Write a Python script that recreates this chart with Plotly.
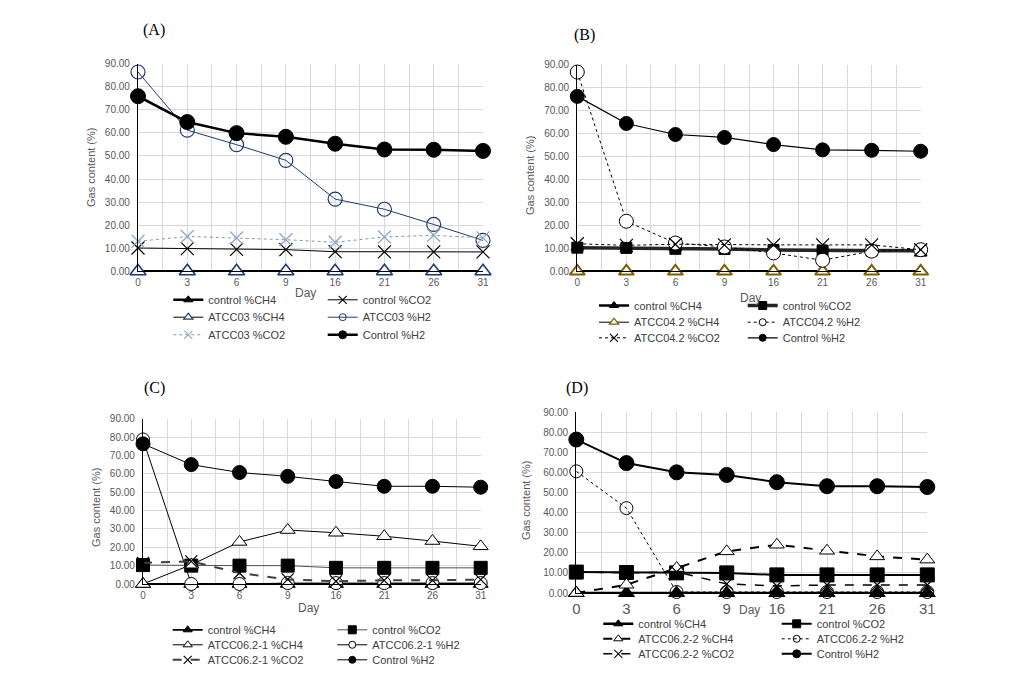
import plotly.graph_objects as go

days = ["0", "3", "6", "9", "16", "21", "26", "31"]

# Panel A
a_ctrl_ch4 = [0, 0, 0, 0, 0, 0, 0, 0]
a_ctrl_co2 = [10.1, 9.8, 9.5, 9.4, 8.5, 8.4, 8.4, 8.4]
a_atcc_ch4 = [0, 0, 0, 0, 0, 0, 0, 0]
a_atcc_h2 = [86.4, 61.2, 54.9, 48.1, 31.3, 26.9, 20.3, 13.4]
a_atcc_co2 = [13.0, 15.1, 14.4, 13.7, 12.6, 14.9, 15.6, 14.5]
a_ctrl_h2 = [75.9, 64.7, 59.9, 58.3, 55.3, 52.8, 52.7, 52.2]

# Panel B
b_ctrl_ch4 = [0, 0, 0, 0, 0, 0, 0, 0]
b_ctrl_co2 = [10.3, 10.2, 9.8, 9.7, 9.3, 9.0, 9.0, 9.0]
b_atcc_ch4 = [0, 0, 0, 0, 0, 0, 0, 0]
b_atcc_h2 = [86.8, 21.8, 12.3, 10.6, 8.0, 4.8, 8.8, 9.4]
b_atcc_co2 = [12.0, 11.3, 11.8, 11.5, 11.5, 11.5, 11.5, 9.4]
b_ctrl_h2 = [76.2, 64.4, 59.6, 58.3, 55.2, 52.9, 52.7, 52.3]

# Panel C
c_ctrl_ch4 = [0, 0, 0, 0, 0, 0, 0, 0]
c_ctrl_co2 = [10.3, 10.0, 10.0, 10.0, 8.8, 8.8, 8.8, 8.8]
c_atcc_ch4 = [0, 10.5, 22.9, 29.4, 27.9, 26.0, 23.4, 20.5]
c_atcc_h2 = [78.7, 0, 0, 0.5, 0.5, 0.5, 0.5, 0.5]
c_atcc_co2 = [11.5, 12.3, 6.0, 2.5, 1.5, 2.0, 2.0, 2.4]
c_ctrl_h2 = [76.3, 65.0, 60.7, 58.6, 55.8, 53.2, 53.2, 52.7]

# Panel D
d_ctrl_ch4 = [0, 0, 0, 0, 0, 0, 0, 0]
d_ctrl_co2 = [10.4, 10.2, 10.0, 10.0, 9.0, 9.0, 9.0, 9.0]
d_atcc_ch4 = [0, 4.1, 12.4, 20.7, 24.0, 21.0, 18.2, 16.6]
d_atcc_h2 = [60.5, 42.2, 0.5, 0.5, 0.5, 0.5, 0.5, 0.5]
d_atcc_co2 = [10.5, 10.0, 10.5, 4.5, 3.5, 4.0, 4.0, 4.0]
d_ctrl_h2 = [76.3, 64.6, 60.0, 58.7, 55.1, 53.1, 53.1, 52.7]

W, H = 1022, 699
FONT = "Liberation Sans"
GRID = "#D9D9D9"
TXT = "#595959"
NAVY = "#1F3A73"
XI = list(range(len(days)))


def px(x):
    return x / W


def py(y):
    return 1 - y / H


fig = go.Figure()


def series(ax, vals, name, line, marker, legend, lmarker):
    xa = "x" if ax == 1 else f"x{ax}"
    ya = "y" if ax == 1 else f"y{ax}"
    fig.add_trace(go.Scatter(x=XI, y=vals, mode="lines+markers", line=line,
                             marker=marker, xaxis=xa, yaxis=ya, showlegend=False,
                             cliponaxis=False, hoverinfo="skip"))
    fig.add_trace(go.Scatter(x=[None], y=[None], mode="lines+markers", name=name,
                             line=line, marker=lmarker, xaxis=xa, yaxis=ya,
                             legend=legend, showlegend=True))


def mk(symbol, size, color, lcolor=None, lw=1.0):
    return dict(symbol=symbol, size=size, color=color,
                line=dict(color=lcolor if lcolor else color, width=lw))


# ---------- Panel A ----------
series(1, a_ctrl_ch4, "control %CH4", dict(color="black", width=2.5),
       mk("triangle-up", 13, "black"), "legend", mk("triangle-up", 8, "black"))
series(1, a_ctrl_co2, "control %CO2", dict(color="black", width=1),
       mk("x-thin", 13, "black", lw=1.2), "legend", mk("x-thin", 8, "black", lw=1.1))
series(1, a_atcc_ch4, "ATCC03 %CH4", dict(color="black", width=1),
       mk("triangle-up", 14, "white", NAVY, 1.6), "legend2", mk("triangle-up", 8, "white", NAVY, 1.2))
series(1, a_atcc_h2, "ATCC03 %H2", dict(color=NAVY, width=1),
       mk("circle-open", 14, NAVY, lw=1.2), "legend2", mk("circle-open", 7, NAVY, lw=1))
series(1, a_atcc_co2, "ATCC03 %CO2", dict(color="#8497B0", width=1, dash="dot"),
       mk("x-thin", 13, "#8EA9C8", lw=1.3), "legend3", mk("x-thin", 8, "#8EA9C8", lw=1.1))
series(1, a_ctrl_h2, "Control %H2", dict(color="black", width=2.5),
       mk("circle", 15, "black"), "legend3", mk("circle", 8, "black"))

# ---------- Panel B ----------
series(2, b_ctrl_ch4, "control %CH4", dict(color="black", width=2.5),
       mk("triangle-up", 13, "black"), "legend4", mk("triangle-up", 8, "black"))
series(2, b_ctrl_co2, "control %CO2", dict(color="#262626", width=3.5),
       mk("square", 11, "black"), "legend4", mk("square", 8, "black"))
series(2, b_atcc_ch4, "ATCC04.2 %CH4", dict(color="black", width=1),
       mk("triangle-up", 13, "white", "#7F6000", 2), "legend5", mk("triangle-up", 8, "white", "#7F6000", 1.3))
series(2, b_atcc_h2, "ATCC04.2 %H2", dict(color="black", width=1, dash="dot"),
       mk("circle", 14, "white", "black", 1), "legend5", mk("circle", 7, "white", "black", 1))
series(2, b_atcc_co2, "ATCC04.2 %CO2", dict(color="black", width=1, dash="dot"),
       mk("x-thin", 13, "black", lw=1.2), "legend6", mk("x-thin", 8, "black", lw=1.1))
series(2, b_ctrl_h2, "Control %H2", dict(color="black", width=1.2),
       mk("circle", 14, "black"), "legend6", mk("circle", 7, "black"))

# ---------- Panel C ----------
series(3, c_ctrl_ch4, "control %CH4", dict(color="black", width=1.8),
       mk("triangle-up", 13, "black"), "legend7", mk("triangle-up", 8, "black"))
series(3, c_ctrl_co2, "control %CO2", dict(color="#44546A", width=1),
       mk("square", 13, "black"), "legend7", mk("square", 8, "black"))
series(3, c_atcc_ch4, "ATCC06.2-1 %CH4", dict(color="black", width=1),
       mk("triangle-up", 13, "white", "black", 1), "legend8", mk("triangle-up", 8, "white", "black", 1))
series(3, c_atcc_h2, "ATCC06.2-1 %H2", dict(color="black", width=1),
       mk("circle", 13, "white", "black", 1), "legend8", mk("circle", 7, "white", "black", 1))
series(3, c_atcc_co2, "ATCC06.2-1 %CO2", dict(color="#404040", width=2, dash="dash"),
       mk("x-thin", 12, "black", lw=1.2), "legend9", mk("x-thin", 8, "black", lw=1.1))
series(3, c_ctrl_h2, "Control %H2", dict(color="black", width=1),
       mk("circle", 14, "black"), "legend9", mk("circle", 7, "black"))

# ---------- Panel D ----------
series(4, d_ctrl_ch4, "control %CH4", dict(color="black", width=2.5),
       mk("triangle-up", 14, "black"), "legend10", mk("triangle-up", 8, "black"))
series(4, d_ctrl_co2, "control %CO2", dict(color="black", width=2),
       mk("square", 14, "black"), "legend10", mk("square", 8, "black"))
series(4, d_atcc_ch4, "ATCC06.2-2 %CH4", dict(color="black", width=2, dash="dash"),
       mk("triangle-up", 13, "white", "black", 1), "legend11", mk("triangle-up", 8, "white", "black", 1))
series(4, d_atcc_h2, "ATCC06.2-2 %H2", dict(color="black", width=1, dash="dot"),
       mk("circle-open", 13, "black", lw=1), "legend11", mk("circle-open", 7, "black", lw=1))
series(4, d_atcc_co2, "ATCC06.2-2 %CO2", dict(color="black", width=1.5, dash="dash"),
       mk("x-thin", 12, "black", lw=1.2), "legend12", mk("x-thin", 8, "black", lw=1.1))
series(4, d_ctrl_h2, "Control %H2", dict(color="black", width=2),
       mk("circle", 15, "black"), "legend12", mk("circle", 8, "black"))

# ---------- axes ----------
panels = {
    1: dict(x=(130, 475), y=(55.7, 263.3), xfs=10),
    2: dict(x=(569.3, 912.7), y=(56.7, 263.3), xfs=10),
    3: dict(x=(135, 472.7), y=(410.7, 576), xfs=10),
    4: dict(x=(568.3, 919.3), y=(404, 585), xfs=15),
}
layout = {}
for k, p in panels.items():
    sx = "xaxis" if k == 1 else f"xaxis{k}"
    sy = "yaxis" if k == 1 else f"yaxis{k}"
    ya = "y" if k == 1 else f"y{k}"
    xa = "x" if k == 1 else f"x{k}"
    layout[sx] = dict(domain=[px(p["x"][0]), px(p["x"][1])], anchor=ya,
                      range=[0, len(days) - 1], tickmode="array", tickvals=XI,
                      ticktext=days, showgrid=True, gridcolor=GRID, gridwidth=1,
                      minor=dict(tickmode="linear", tick0=0, dtick=0.5, showgrid=True,
                                 gridcolor=GRID, gridwidth=1),
                      showline=True, linecolor="black", linewidth=1, zeroline=False,
                      ticks="", ticklabelstandoff=2,
                      tickfont=dict(family=FONT, size=p["xfs"], color=TXT),
                      automargin=False, fixedrange=True)
    layout[sy] = dict(domain=[py(p["y"][1]), py(p["y"][0])], anchor=xa,
                      range=[0, 90], dtick=10, tick0=0, tickformat=".2f",
                      showgrid=True, gridcolor=GRID, gridwidth=1,
                      showline=True, linecolor="black", linewidth=1.2, zeroline=False,
                      ticks="", ticklabelstandoff=5,
                      tickfont=dict(family=FONT, size=10, color=TXT),
                      automargin=False, fixedrange=True)

# ---------- legends (one per row, two entries each) ----------
legend_rows = [
    # (key, text x col1, row y, entrywidth)
    ("legend", 208.3, 299.3, 109.4), ("legend2", 208.3, 316.7, 109.4), ("legend3", 208.3, 334.3, 109.4),
    ("legend4", 634, 305, 103.7), ("legend5", 634, 321.7, 103.7), ("legend6", 634, 337.3, 103.7),
    ("legend7", 207.7, 629.3, 119.6), ("legend8", 207.7, 644.3, 119.6), ("legend9", 207.7, 659.3, 119.6),
    ("legend10", 638.3, 623.3, 133.4), ("legend11", 638.3, 638.3, 133.4), ("legend12", 638.3, 653.3, 133.4),
]
for key, tx, ry, ew in legend_rows:
    layout[key] = dict(orientation="h", x=px(tx - 48), y=py(ry - 22), xanchor="left",
                       yanchor="top", entrywidth=ew, entrywidthmode="pixels",
                       bgcolor="rgba(0,0,0,0)", borderwidth=0,
                       font=dict(family=FONT, size=11, color="#404040"),
                       itemclick=False, itemdoubleclick=False)

# ---------- annotations ----------
ann = []
for txt, x, y in [("(A)", 146, 22), ("(B)", 576, 27), ("(C)", 146, 380), ("(D)", 569, 380)]:
    ann.append(dict(text=txt, x=px(x), y=py(y), xref="paper", yref="paper",
                    showarrow=False, xanchor="center", yanchor="middle",
                    font=dict(family="Liberation Serif", size=16, color="black")))
for x, y in [(83, 160), (522, 168), (88, 500), (518, 493)]:
    ann.append(dict(text="Gas content (%)", x=px(x), y=py(y), xref="paper", yref="paper",
                    showarrow=False, textangle=-90, xanchor="center", yanchor="middle",
                    font=dict(family=FONT, size=11, color=TXT)))
for x, y in [(297, 285), (742, 290), (300, 600), (741, 602)]:
    ann.append(dict(text="Day", x=px(x), y=py(y), xref="paper", yref="paper",
                    showarrow=False, xanchor="center", yanchor="middle",
                    font=dict(family=FONT, size=12, color=TXT)))

fig.update_layout(width=W, height=H, margin=dict(l=0, r=0, t=0, b=0),
                  paper_bgcolor="white", plot_bgcolor="white", template="none",
                  annotations=ann, hovermode=False, **layout)

fig.write_html("out.html")
